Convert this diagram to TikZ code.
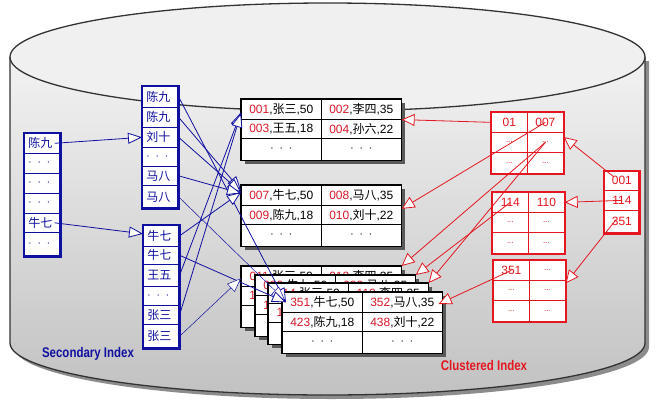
\documentclass[tikz,border=0pt]{standalone}
\usepackage{fontspec}
\setmainfont{Liberation Sans}
\newfontfamily\cjk{Noto Sans CJK SC}
\usetikzlibrary{arrows.meta,calc}
\definecolor{sblue}{RGB}{16,16,160}
\definecolor{cred}{RGB}{228,22,32}
\definecolor{nred}{RGB}{215,25,40}
\newcommand\zh[1]{{\cjk #1}}
\newcommand\rec[3]{\textcolor{nred}{#1},\zh{#2},#3}
\newcommand\dotsrow{$\cdot\;\cdot\;\cdot$}
\newcommand\sdots{{\fontsize{8}{8}\selectfont ...}}
\tikzset{
  pcell/.style={draw=black, line width=0.6pt, fill=white, minimum width=80pt,
    minimum height=20pt, inner sep=0pt, anchor=north west, font=\fontsize{12}{14}\selectfont},
  ccell/.style={draw=cred, line width=0.7pt, fill=white, minimum width=36pt,
    minimum height=20pt, inner sep=0pt, anchor=north west, text=cred, font=\fontsize{12}{13}\selectfont},
  scell/.style={draw=sblue, line width=0.6pt, fill=white, anchor=north west,
    inner xsep=4pt, inner ysep=0pt, text width=28pt, align=left, text=sblue,
    font=\cjk\fontsize{12}{14}\selectfont},
  barr/.style={draw=sblue, line width=0.8pt, -{Triangle[length=14pt,width=11pt,fill=white]}},
  barrthin/.style={barr, line width=0.5pt},
  rarr/.style={draw=cred, line width=0.8pt, -{Triangle[length=13pt,width=12pt,fill=white]}},
  lbl/.style={font=\bfseries\fontsize{14}{16}\selectfont}
}
\newcommand\dpage[7]{%
  \fill[black!65] (#2+4,#3+4) rectangle (#2+164,#3+65);
  \node[pcell] (#1a) at (#2,#3) {#4};
  \node[pcell] (#1b) at (#2+80,#3) {#5};
  \node[pcell,minimum height=19pt] (#1c) at (#2,#3+20) {#6};
  \node[pcell,minimum height=19pt] (#1d) at (#2+80,#3+20) {#7};
  \node[pcell,minimum height=22pt] (#1e) at (#2,#3+39) {\dotsrow};
  \node[pcell,minimum height=22pt] (#1f) at (#2+80,#3+39) {\dotsrow};
  \draw[line width=1.5pt] (#1a.north west) rectangle (#1f.south east);
}
\newcommand\cbox[5]{%
  \node[ccell] (#1a) at (#2,#3) {#4};
  \node[ccell] (#1b) at (#2+36,#3) {#5};
  \node[ccell] (#1c) at (#2,#3+20) {\sdots};
  \node[ccell] (#1d) at (#2+36,#3+20) {\sdots};
  \node[ccell,minimum height=21pt] (#1e) at (#2,#3+40) {\sdots};
  \node[ccell,minimum height=21pt] (#1f) at (#2+36,#3+40) {\sdots};
  \draw[cred,line width=2pt] (#1a.north west) rectangle (#1f.south east);
}
\begin{document}
\begin{tikzpicture}[x=1pt,y=-1pt]
\useasboundingbox (0,0) rectangle (663,412);
% cylinder
\fill[black!45] (14,61) -- (14,347) .. controls (14,375.7) and (156.1,399) .. (331.5,399)
  .. controls (506.9,399) and (649,375.7) .. (649,347) -- (649,61) -- cycle;
\shade[top color=black!5, bottom color=black!24] (10,57) -- (10,343)
  .. controls (10,371.7) and (152.1,395) .. (327.5,395)
  .. controls (502.9,395) and (645,371.7) .. (645,343) -- (645,57) -- cycle;
\draw[line width=1.3pt, black!80] (10,57) -- (10,343)
  .. controls (10,371.7) and (152.1,395) .. (327.5,395)
  .. controls (502.9,395) and (645,371.7) .. (645,343) -- (645,57);
\draw[fill=black!6, line width=1.3pt, draw=black!80] (327.5,57) ellipse [x radius=317.5pt, y radius=54pt];
% secondary index columns
\foreach \n/\y/\h/\t in {r1/133/20/陈九, r2/153/20/\dotsrow, r3/173/20/\dotsrow,
    r4/193/20/\dotsrow, r5/213/19/牛七, r6/232/24/\dotsrow}
  \node[scell, minimum height=\h pt] (\n) at (24,\y) {\t};
\draw[sblue, line width=2.5pt] (r1.north west) rectangle (r6.south east);
\foreach \n/\y/\h/\t in {u1/86/21/陈九, u2/107/20/陈九, u3/127/20/刘十,
    u4/147/19/\dotsrow, u5/166/19/马八, u6/185/23/马八}
  \node[scell, minimum height=\h pt] (\n) at (142,\y) {\t};
\draw[sblue, line width=2.5pt] (u1.north west) rectangle (u6.south east);
\foreach \n/\y/\h/\t in {l1/225/21/牛七, l2/246/18/牛七, l3/264/22/王五,
    l4/286/19/\dotsrow, l5/305/19/张三, l6/324/24/张三}
  \node[scell, minimum height=\h pt] (\n) at (143,\y) {\t};
\draw[sblue, line width=2.5pt] (l1.north west) rectangle (l6.south east);
% data pages
\dpage{p1}{241}{99}{\rec{001}{张三}{50}}{\rec{002}{李四}{35}}{\rec{003}{王五}{18}}{\rec{004}{孙六}{22}}
\dpage{p2}{241}{185}{\rec{007}{牛七}{50}}{\rec{008}{马八}{35}}{\rec{009}{陈九}{18}}{\rec{010}{刘十}{22}}
\dpage{pA}{241}{266}{\rec{011}{张三}{50}}{\rec{012}{李四}{35}}{\rec{101}{王五}{18}}{\rec{102}{孙六}{22}}
\dpage{pB}{255}{275}{\rec{020}{牛七}{50}}{\rec{023}{马八}{35}}{\rec{105}{陈九}{18}}{\rec{106}{刘十}{22}}
\dpage{pC}{268}{283}{\rec{114}{张三}{50}}{\rec{112}{李四}{35}}{\rec{115}{王五}{18}}{\rec{116}{孙六}{22}}
\dpage{pD}{282}{292}{\rec{351}{牛七}{50}}{\rec{352}{马八}{35}}{\rec{423}{陈九}{18}}{\rec{438}{刘十}{22}}
% clustered index
\cbox{cb1}{491}{112}{01}{007}
\cbox{cb2}{492}{192}{114}{110}
\cbox{cb3}{493}{260}{351}{\sdots}
\node[ccell, minimum width=35pt, minimum height=19pt] (cr1) at (604,171) {001};
\node[ccell, minimum width=35pt, minimum height=20pt] (cr2) at (604,190) {114};
\node[ccell, minimum width=35pt, minimum height=23pt] (cr3) at (604,210) {351};
\draw[cred, line width=2.5pt] (cr1.north west) rectangle (cr3.south east);
% blue connectors
\draw[barr] ($(r1.east)+(-6,0)$) -- (u3.west);
\draw[barr] ($(r5.east)+(-6,0)$) -- ($(l1.west)+(0,-2)$);
\draw[barr] (u1.east) -- ($(pDa.west)+(4,0)$);
\draw[barr] (u2.east) -- ($(p2a.west)+(0,-5)$);
\draw[barr] (u3.east) -- ($(p2a.west)+(0,-3)$);
\draw[barr] (u5.east) -- ($(p2a.west)+(0,-2)$);
\draw[barrthin] (u6.east) -- ($(pDa.west)+(3,-2)$);
\draw[barr] (l1.east) -- ($(p2a.west)+(0,-3)$);
\draw[barr] (l2.east) -- ($(pDa.west)+(4,0)$);
\draw[barr] (l3.east) -- ($(p1a.west)+(0,3)$);
\draw[barr] (l5.east) -- ($(p1a.west)+(0,4)$);
\draw[barrthin] (l6.east) -- ($(pAa.west)+(0,2)$);
% red connectors
\draw[rarr] (cb1a.west) -- (p1b.south east);
\draw[rarr] (cb1b.center) -- ($(p2d.east)+(0,-6)$);
\draw[rarr] (cb1d.center) -- (pAb.north east);
\draw[rarr] (cb1d.center) -- (pCb.north east);
\draw[rarr] (cb2a.center) -- (pBb.north east);
\draw[rarr] (cb3a.center) -- ($(pDb.north east)+(-4,12)$);
\draw[rarr] ($(cr1.center)+(-8,-4)$) -- ($(cb1d.north east)+(0,5)$);
\draw[rarr] (cr2.center) -- (cb2b.east);
\draw[rarr] ($(cr3.center)+(-6,-2)$) -- ($(cb3d.east)+(0,-7)$);
% labels
\node[lbl, text=sblue] (lsec) at (88,354) {\scalebox{0.82}[1]{Secondary Index}};
\node[lbl, text=cred] (lclu) at (484,365) {\scalebox{0.82}[1]{Clustered Index}};
\end{tikzpicture}
\end{document}
